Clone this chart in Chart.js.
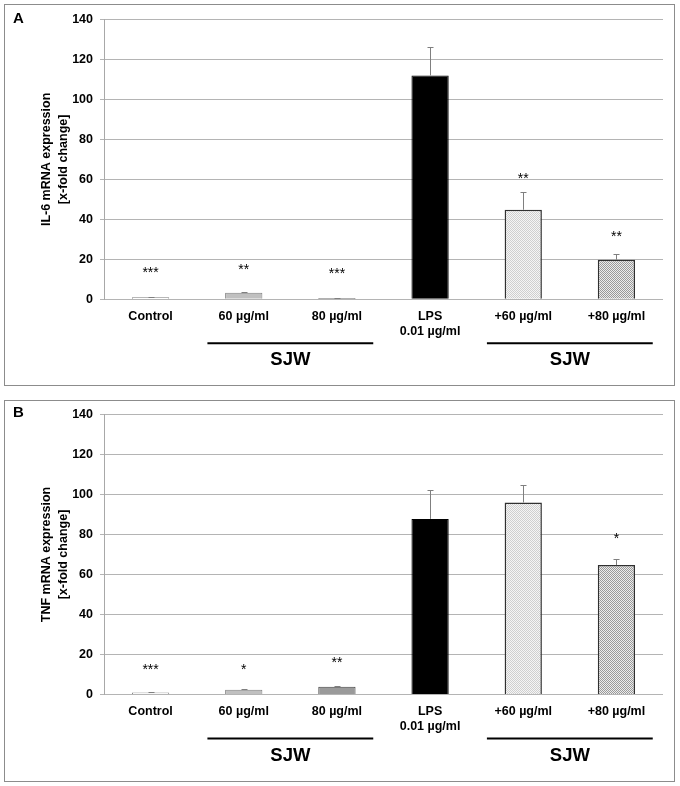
<!DOCTYPE html>
<html>
<head>
<meta charset="utf-8">
<script src="https://cdn.jsdelivr.net/npm/chart.js@4.4.1/dist/chart.umd.min.js"></script>
<style>
body { margin: 0; background: #fff; width: 680px; height: 786px; position: relative; overflow: hidden; }
.panel { position: absolute; border: 1.5px solid #8c8c8c; box-sizing: border-box; }
canvas { position: absolute; left: 0; }
</style>
</head>
<body>
<div class="panel" style="left:4px;top:4px;width:671px;height:382px"></div>
<div class="panel" style="left:4px;top:400px;width:671px;height:382px"></div>
<canvas id="chartA" width="680" height="392" style="top:0"></canvas>
<canvas id="chartB" width="680" height="394" style="top:392px"></canvas>
<script>
// categories
var labels = ['Control', '60 µg/ml', '80 µg/ml', ['LPS', '0.01 µg/ml'], '+60 µg/ml', '+80 µg/ml'];
var sjwGroups = [[1, 2], [4, 5]];
var yTicks = [0, 140, 20]; // min, max, step

// panel A: IL-6
var il6Mean = [1.0, 3.3, 0.6, 112, 44.8, 19.8];
var il6Err = [0.3, 0.5, 0.3, 14, 9, 2.8];
var il6Stars = ['***', '**', '***', '', '**', '**'];
var il6StarAt = [14.3, 15.6, 13.6, 0, 61, 32];

// panel B: TNF
var tnfMean = [1.0, 2.4, 3.9, 87.8, 96, 64.7];
var tnfErr = [0.3, 0.5, 0.5, 14.4, 9, 2.8];
var tnfStars = ['***', '*', '**', '', '', '*'];
var tnfStarAt = [13.5, 13.5, 16.7, 0, 0, 79];

Chart.defaults.font.family = '"Liberation Sans", Arial, sans-serif';
Chart.defaults.color = '#000';

function checker(fg, bg) {
    var c = document.createElement('canvas');
    c.width = 2; c.height = 2;
    var g = c.getContext('2d');
    g.fillStyle = bg; g.fillRect(0, 0, 2, 2);
    g.fillStyle = fg; g.fillRect(0, 0, 1, 1); g.fillRect(1, 1, 1, 1);
    return g.createPattern(c, 'repeat');
}

var decor = {
    id: 'decor',
    afterDatasetsDraw: function (chart, args, opts) {
        var ctx = chart.ctx;
        var x = chart.scales.x, y = chart.scales.y;
        var bars = chart.getDatasetMeta(0).data;
        ctx.save();
        // error bars (upper only)
        ctx.strokeStyle = '#7f7f7f';
        ctx.lineWidth = 1;
        bars.forEach(function (bar, i) {
            var top = Math.round(y.getPixelForValue(opts.means[i] + opts.errs[i])) + 0.5;
            var bx = Math.round(bar.x) + 0.5;
            ctx.beginPath();
            ctx.moveTo(bx, bar.y);
            ctx.lineTo(bx, top);
            ctx.moveTo(bx - 3, top);
            ctx.lineTo(bx + 3, top);
            ctx.stroke();
        });
        // significance stars
        ctx.fillStyle = '#000';
        ctx.font = '14px "Liberation Sans", Arial, sans-serif';
        ctx.textAlign = 'center';
        ctx.textBaseline = 'alphabetic';
        bars.forEach(function (bar, i) {
            if (!opts.stars[i]) return;
            ctx.fillText(opts.stars[i], bar.x, y.getPixelForValue(opts.starAt[i]) + 6);
        });
        // SJW group lines
        var catW = x.getPixelForValue(1) - x.getPixelForValue(0);
        sjwGroups.forEach(function (grp) {
            var x0 = x.getPixelForValue(grp[0]) - 0.39 * catW;
            var x1 = x.getPixelForValue(grp[1]) + 0.39 * catW;
            ctx.strokeStyle = '#000';
            ctx.lineWidth = 2;
            ctx.beginPath();
            ctx.moveTo(x0, y.bottom + 44);
            ctx.lineTo(x1, y.bottom + 44);
            ctx.stroke();
            ctx.font = 'bold 18.5px "Liberation Sans", Arial, sans-serif';
            ctx.textBaseline = 'middle';
            ctx.fillText('SJW', (x0 + x1) / 2, y.bottom + 61);
        });
        // panel letter
        ctx.font = 'bold 15px "Liberation Sans", Arial, sans-serif';
        ctx.textAlign = 'center';
        ctx.textBaseline = 'middle';
        ctx.fillText(opts.letter, 18.5, opts.letterY);
        ctx.restore();
    }
};

function makeChart(id, means, errs, stars, starAt, title, letter, letterY, padTop, axisH) {
    var light = checker('#cfcfcf', '#f5f5f5');
    var dense = checker('#999999', '#ececec');
    new Chart(document.getElementById(id), {
        type: 'bar',
        data: {
            labels: labels,
            datasets: [{
                data: means,
                backgroundColor: ['#ffffff', '#c0c0c0', '#9a9a9a', '#000000', light, dense],
                borderColor: ['#808080', '#808080', '#404040', '#000000', '#303030', '#303030'],
                borderWidth: [1, 1, 1, 1, 1.5, 1.5],
                barPercentage: 0.4,
                categoryPercentage: 1.0
            }]
        },
        plugins: [decor],
        options: {
            responsive: false,
            animation: false,
            layout: { padding: { top: padTop, right: 17, left: 0, bottom: 0 } },
            plugins: {
                legend: { display: false },
                tooltip: { enabled: false },
                decor: { means: means, errs: errs, stars: stars, starAt: starAt, letter: letter, letterY: letterY }
            },
            scales: {
                x: {
                    grid: { display: false },
                    border: { display: false },
                    ticks: {
                        font: { size: 12.5, weight: 'bold', lineHeight: 1.2 },
                        padding: 2,
                        maxRotation: 0,
                        autoSkip: false
                    },
                    afterFit: function (s) { s.height = axisH; }
                },
                y: {
                    min: yTicks[0],
                    max: yTicks[1],
                    ticks: {
                        stepSize: yTicks[2],
                        font: { size: 12.5, weight: 'bold' },
                        padding: 7
                    },
                    grid: { color: '#b4b4b4', lineWidth: 1, tickLength: 4 },
                    border: { color: '#a8a8a8' },
                    title: {
                        display: true,
                        text: title,
                        font: { size: 12.5, weight: 'bold', lineHeight: 1.34 },
                        padding: { top: 38.5, bottom: 0 }
                    },
                    afterFit: function (s) { s.width = 104; }
                }
            }
        }
    });
}

makeChart('chartA', il6Mean, il6Err, il6Stars, il6StarAt,
    ['IL-6 mRNA expression', '[x-fold change]'], 'A', 18.5, 19.5, 92.7);
makeChart('chartB', tnfMean, tnfErr, tnfStars, tnfStarAt,
    ['TNF mRNA expression', '[x-fold change]'], 'B', 21, 22.5, 91.5);
</script>
</body>
</html>
